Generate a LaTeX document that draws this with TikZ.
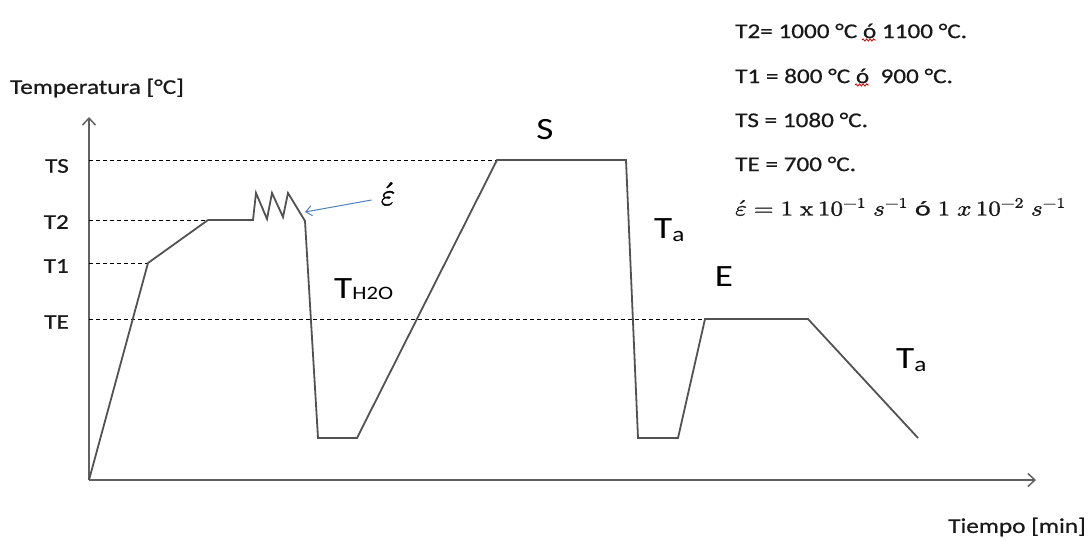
\documentclass[tikz,border=0pt]{standalone}
\usepackage{fontspec}
\usepackage{unicode-math}
\setmainfont{Carlito}[FakeStretch=1.2]
\setmathfont{Latin Modern Math}[FakeBold=1.2]
\newfontfamily\lblfont{Carlito}[FakeStretch=1.2,FakeBold=0.6]
\usetikzlibrary{arrows.meta,decorations.pathmorphing}
\begin{document}
\begin{tikzpicture}[x=1pt,y=-1pt,
  curve/.style={draw=black!68, line width=1.8pt, line join=miter},
  axis/.style={draw=black!62, line width=1.8pt, -{Straight Barb[length=7pt,width=13pt,line width=1.5pt]}},
  guide/.style={draw=black, line width=0.9pt, dash pattern=on 4pt off 3pt},
  lbl/.style={font=\lblfont\fontsize{21}{25}\selectfont, inner sep=0pt, text=black!90},
  big/.style={font=\fontsize{31}{36}\selectfont, inner sep=0pt, text=black},
  pointer/.style={draw={rgb,255:red,79;green,129;blue,189}, line width=1pt, -{Straight Barb[length=6pt,width=10pt]}},
  squiggle/.style={draw=red!80!black, line width=0.8pt, decorate, decoration={snake, amplitude=1.1pt, segment length=3.5pt}}
]
\useasboundingbox (0,0) rectangle (1091,540);

% axes
\coordinate (O) at (89,480);
\coordinate (Ytop) at (89,117);
\coordinate (Xend) at (1036,480);
\draw[axis] (O) -- (Ytop);
\draw[axis] (O) -- (Xend);

% curve points
\coordinate (p1) at (148,263);
\coordinate (p2) at (208,220);
\coordinate (z0) at (253,220);
\coordinate (z1) at (256,193);
\coordinate (z2) at (267,219);
\coordinate (z3) at (272,193);
\coordinate (z4) at (283,217);
\coordinate (z5) at (288,193);
\coordinate (z6) at (305,221);
\coordinate (q1) at (318,438);
\coordinate (q2) at (357,438);
\coordinate (s1) at (497,160);
\coordinate (s2) at (626,160);
\coordinate (r1) at (638,438);
\coordinate (r2) at (678,438);
\coordinate (e1) at (705,319);
\coordinate (e2) at (808,319);
\coordinate (fin) at (918,438);

% guide lines
\coordinate (gTS) at (89,160);
\coordinate (gT2) at (89,220);
\coordinate (gT1) at (89,263);
\coordinate (gTE) at (89,319);
\draw[guide] (gTS) -- (s1);
\draw[guide] (gT2) -- (p2);
\draw[guide] (gT1) -- (p1);
\draw[guide] (gTE) -- (e1);

\draw[curve] (O) -- (p1) -- (p2) -- (z0) -- (z1) -- (z2) -- (z3) -- (z4) -- (z5) -- (z6) -- (q1) -- (q2) -- (s1) -- (s2) -- (r1) -- (r2) -- (e1) -- (e2) -- (fin);

% axis labels
\node[lbl, anchor=west] (ylab) at (10,88) {Temperatura [°C]};
\node[lbl, anchor=east] (xlab) at (1086,527) {Tiempo [min]};
\node[lbl, anchor=east] (lTS) at (69,166) {TS};
\node[lbl, anchor=east] (lT2) at (69,222) {T2};
\node[lbl, anchor=east] (lT1) at (69,266) {T1};
\node[lbl, anchor=east] (lTE) at (69,322) {TE};

% stage labels
\node[big] (S) at (545,130) {S};
\node[big, anchor=base west] (Ta1) at (654,238) {T\raisebox{-3pt}{\fontsize{21}{24}\selectfont a}};
\node[big] (E) at (724,277) {E};
\node[big, anchor=base west] (Ta2) at (896,368) {T\raisebox{-3pt}{\fontsize{21}{24}\selectfont a}};
\node[big, anchor=base west] (TH) at (334,298) {T\raisebox{-1pt}{\fontsize{19}{22}\selectfont H2O}};
\node[font=\fontsize{31}{34}\selectfont, inner sep=1pt] (eps) at (388,194) {$\acute{\varepsilon}$};
\coordinate (tip) at (305,212);
\draw[pointer] (eps.west) ++(-8pt,-6pt) coordinate (tail) (tail) -- (tip);

% data block
\node[lbl, anchor=west] (d1) at (735,31) {T2= 1000 °C ó 1100 °C.};
\node[lbl, anchor=west] (d2) at (735,76) {T1 = 800 °C ó \ 900 °C.};
\node[lbl, anchor=west] (d3) at (735,120) {TS = 1080 °C.};
\node[lbl, anchor=west] (d4) at (735,164) {TE = 700 °C.};
\node[lbl, anchor=west] (d5) at (735,207) {\scalebox{1.2}[1]{\fontsize{21}{25}\selectfont$\acute{\varepsilon} = 1\ \symup{x}\,10^{-1}\ s^{-1}$ ó $1\ x\,10^{-2}\ s^{-1}$}};

% spell-check underlines
\draw[squiggle] (d1.west) ++(127pt,-9pt) -- ++(14pt,0);
\draw[squiggle] (d2.west) ++(120pt,-9pt) -- ++(14pt,0);
\end{tikzpicture}
\end{document}
